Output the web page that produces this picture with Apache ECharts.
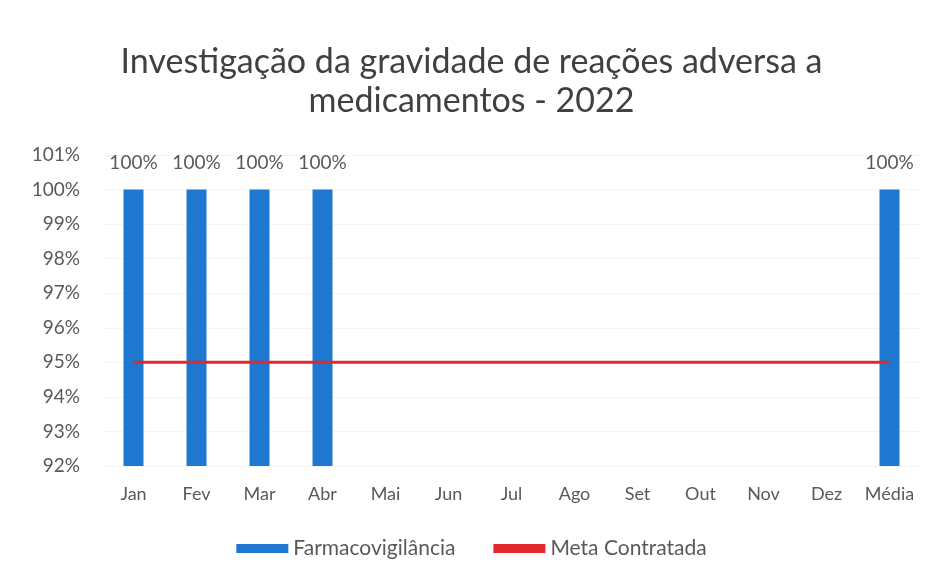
<!doctype html>
<html>
<head>
    <meta charset="utf-8">
    <title>Investigação da gravidade de reações adversa a medicamentos - 2022</title>
    <style>
        html, body { margin: 0; padding: 0; background: #fff; }
        #chart { width: 943px; height: 582px; }
    </style>
</head>
<body>
<div id="chart"></div>
<script src="https://cdn.jsdelivr.net/npm/echarts@6/dist/echarts.min.js"></script>
<script>
    // dados do gráfico
    var meses = ['Jan', 'Fev', 'Mar', 'Abr', 'Mai', 'Jun', 'Jul', 'Ago', 'Set', 'Out', 'Nov', 'Dez', 'Média'];
    var farmaco = [100, 100, 100, 100, null, null, null, null, null, null, null, null, 100];
    var meta = [95, 95, 95, 95, 95, 95, 95, 95, 95, 95, 95, 95, 95];

    var fonte = 'Lato, "Open Sans", sans-serif';
    var myChart = echarts.init(document.getElementById('chart'));
    var option = {
        backgroundColor: '#fff',
        animation: false,
        title: {
            text: 'Investigação da gravidade de reações adversa a\nmedicamentos - 2022',
            left: 'center',
            top: 38,
            textStyle: {
                fontFamily: fonte,
                fontSize: 34,
                fontWeight: 'normal',
                color: '#404040',
                lineHeight: 39
            }
        },
        legend: {
            bottom: 18,
            left: 'center',
            itemGap: 38,
            textStyle: { fontFamily: fonte, fontSize: 21, color: '#595959' },
            data: [
                { name: 'Farmacovigilância', icon: 'rect', itemWidth: 52, itemHeight: 9 },
                { name: 'Meta Contratada', icon: 'rect', itemWidth: 58, itemHeight: 4 }
            ],
            itemWidth: 52,
            itemHeight: 9
        },
        grid: {
            left: 102,
            right: 22,
            top: 155,
            bottom: 116,
            containLabel: false
        },
        xAxis: {
            type: 'category',
            data: meses,
            axisLine: { show: false },
            axisTick: { show: false },
            axisLabel: {
                interval: 0,
                margin: 19,
                fontFamily: fonte,
                fontSize: 18,
                color: '#595959'
            }
        },
        yAxis: {
            type: 'value',
            min: 92,
            max: 101,
            interval: 1,
            axisLine: { show: false },
            axisTick: { show: false },
            splitLine: { show: true, lineStyle: { color: '#f4f4f4' } },
            axisLabel: {
                margin: 22,
                fontFamily: fonte,
                fontSize: 19,
                color: '#595959',
                formatter: '{value}%'
            }
        },
        series: [
            {
                name: 'Farmacovigilância',
                type: 'bar',
                data: farmaco,
                barWidth: 20,
                itemStyle: { color: '#1e78d0' },
                label: {
                    show: true,
                    position: 'top',
                    distance: 17,
                    fontFamily: fonte,
                    fontSize: 19,
                    color: '#595959',
                    formatter: '{c}%'
                }
            },
            {
                name: 'Meta Contratada',
                type: 'line',
                data: meta,
                symbol: 'none',
                lineStyle: { color: '#e0282e', width: 3 },
                itemStyle: { color: '#e0282e' }
            }
        ]
    };
    myChart.setOption(option);
</script>
</body>
</html>
